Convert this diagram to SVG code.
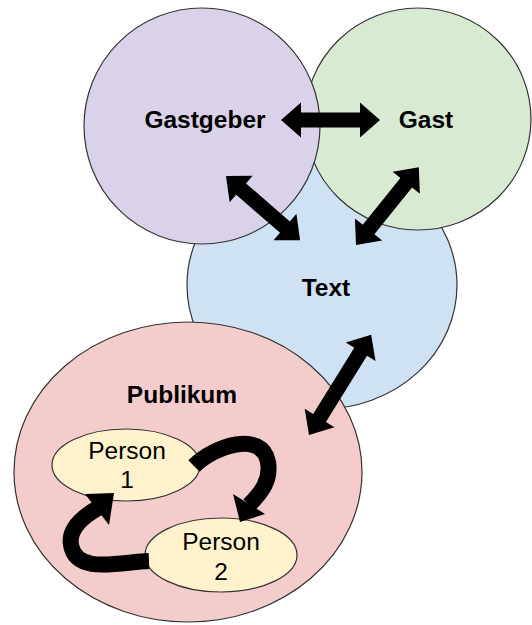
<svg xmlns="http://www.w3.org/2000/svg" width="532" height="625" viewBox="0 0 532 625">
<style>
.c{stroke:#333;stroke-width:1.2}
.lb{font-family:"Liberation Sans",Arial,sans-serif;font-size:24.5px;font-weight:bold;fill:#000;text-anchor:middle}
.lt{font-family:"Liberation Sans",Arial,sans-serif;font-size:24.5px;fill:#000;text-anchor:middle}
.arr{fill:#000}
.crv{fill:none;stroke:#000;stroke-width:16}
</style>
<rect width="532" height="625" fill="#fff"/>
<g id="text-node"><ellipse class="c" cx="322" cy="285" rx="135" ry="124" fill="#cfe2f3"/></g>
<g id="gast"><ellipse class="c" cx="418" cy="119" rx="113" ry="111" fill="#d9ead3"/></g>
<g id="gastgeber"><ellipse class="c" cx="202" cy="126" rx="118" ry="118" fill="#d9d2e9"/></g>
<g id="publikum"><ellipse class="c" cx="188" cy="472" rx="174" ry="150" fill="#f4cccc"/></g>
<g id="person1"><ellipse class="c" cx="126" cy="465" rx="74" ry="36" fill="#fff2cc"/>
<text class="lt" x="127" y="459">Person</text><text class="lt" x="127" y="488">1</text></g>
<g id="person2"><ellipse class="c" cx="221" cy="555" rx="76" ry="37" fill="#fff2cc"/>
<text class="lt" x="221" y="550">Person</text><text class="lt" x="221" y="580">2</text></g>
<g id="labels">
<text class="lb" x="205" y="128">Gastgeber</text>
<text class="lb" x="426" y="128">Gast</text>
<text class="lb" x="326" y="296">Text</text>
<text class="lb" x="182" y="403">Publikum</text>
</g>
<g id="connectors">
<polygon class="arr" transform="translate(281,120)" points="0,0 20,-17.5 20,-7.5 79,-7.5 79,-17.5 99,0 79,17.5 79,7.5 20,7.5 20,17.5"/>
<polygon class="arr" transform="translate(226,176) rotate(40.9)" points="0,0 20,-17.5 20,-7.5 78,-7.5 78,-17.5 98,0 78,17.5 78,7.5 20,7.5 20,17.5"/>
<polygon class="arr" transform="translate(356,245) rotate(-51.1)" points="0,0 20,-17.5 20,-7.5 80,-7.5 80,-17.5 100,0 80,17.5 80,7.5 20,7.5 20,17.5"/>
<polygon class="arr" transform="translate(309,435) rotate(-58.2)" points="0,0 20,-17.5 20,-7.5 98,-7.5 98,-17.5 118,0 98,17.5 98,7.5 20,7.5 20,17.5"/>
<path class="crv" d="M194 466 C214 446 262 430 268 462 C271 480 262 492 249 505"/>
<polygon class="arr" points="233,494 265,514 240,522"/>
<path class="crv" d="M149 561 C120 562 76 575 71 545 C68 528 84 516 98 508"/>
<polygon class="arr" points="85,494 109,525 114,493"/>
</g>
</svg>
